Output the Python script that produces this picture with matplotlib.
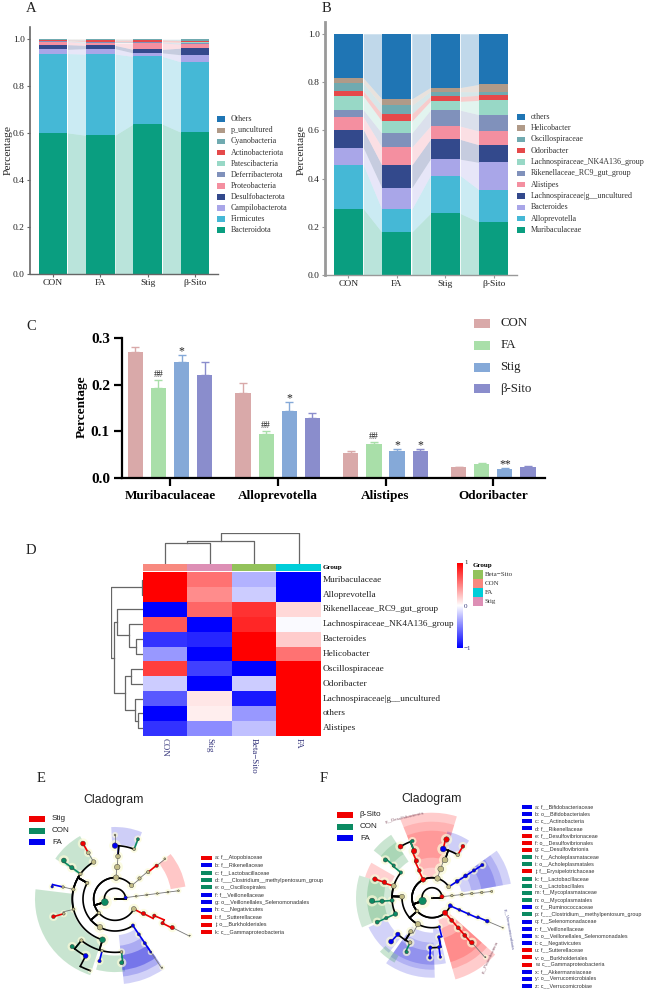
import numpy as np
import matplotlib
matplotlib.use('Agg')
import matplotlib.pyplot as plt
from matplotlib.patches import Rectangle, Wedge
from matplotlib.colors import LinearSegmentedColormap

plt.rcParams['font.family'] = ['Liberation Serif', 'DejaVu Serif']

W, H = 648, 992

# panel A / B, values are the height of each layer
groups = ['CON', 'FA', 'Stig', 'β-Sito']
stack_colors = ['#0a9e80', '#45b8d6', '#a9a6e8', '#33498c', '#f48fa0', '#8091bb',
                '#98d8c6', '#e5494a', '#70aab0', '#b09a88', '#1f75b4']

a_names = ['Bacteroidota', 'Firmicutes', 'Campilobacterota', 'Desulfobacterota',
           'Proteobacteria', 'Deferribacterota', 'Patescibacteria', 'Actinobacteriota',
           'Cyanobacteria', 'p_uncultured', 'Others']
a_bacteroidota = [0.600, 0.590, 0.637, 0.603]
a_firmicutes = [0.337, 0.345, 0.288, 0.299]
a_campilo = [0.018, 0.023, 0.015, 0.030]
a_desulfo = [0.020, 0.014, 0.015, 0.028]
a_proteo = [0.013, 0.010, 0.027, 0.017]
a_deferri = [0.002, 0.003, 0.003, 0.005]
a_patesci = [0.002, 0.003, 0.002, 0.003]
a_actino = [0.003, 0.006, 0.008, 0.007]
a_cyano = [0.003, 0.003, 0.003, 0.006]
a_uncult = [0.001, 0.002, 0.001, 0.001]
a_others = [0.001, 0.001, 0.001, 0.001]
a_layers = [a_bacteroidota, a_firmicutes, a_campilo, a_desulfo, a_proteo, a_deferri,
            a_patesci, a_actino, a_cyano, a_uncult, a_others]

b_names = ['Muribaculaceae', 'Alloprevotella', 'Bacteroides', 'Lachnospiraceae|g__uncultured',
           'Alistipes', 'Rikenellaceae_RC9_gut_group', 'Lachnospiraceae_NK4A136_group',
           'Odoribacter', 'Oscillospiraceae', 'Helicobacter', 'others']
b_muri = [0.275, 0.178, 0.255, 0.220]
b_allo = [0.182, 0.095, 0.157, 0.134]
b_bacteroides = [0.071, 0.089, 0.068, 0.113]
b_lachn = [0.075, 0.094, 0.082, 0.073]
b_alist = [0.052, 0.074, 0.055, 0.057]
b_riken = [0.030, 0.058, 0.066, 0.068]
b_nk4a = [0.057, 0.050, 0.037, 0.059]
b_odori = [0.021, 0.030, 0.020, 0.021]
b_oscil = [0.032, 0.035, 0.020, 0.015]
b_helico = [0.022, 0.027, 0.017, 0.030]
b_others = [0.183, 0.270, 0.223, 0.210]
b_layers = [b_muri, b_allo, b_bacteroides, b_lachn, b_alist, b_riken, b_nk4a,
            b_odori, b_oscil, b_helico, b_others]

# panel C
c_taxa = ['Muribaculaceae', 'Alloprevotella', 'Alistipes', 'Odoribacter']
c_colors = ['#d9a9a9', '#a9dfa9', '#85a9d8', '#8a8dcc']
c_con = [0.270, 0.182, 0.054, 0.022]
c_fa = [0.192, 0.095, 0.073, 0.029]
c_stig = [0.250, 0.144, 0.057, 0.019]
c_sito = [0.221, 0.128, 0.058, 0.022]
c_con_err = [0.011, 0.021, 0.003, 0.002]
c_fa_err = [0.018, 0.005, 0.004, 0.002]
c_stig_err = [0.015, 0.018, 0.004, 0.001]
c_sito_err = [0.027, 0.012, 0.004, 0.003]
c_marks = {(0, 1): '##', (0, 2): '*', (1, 1): '##', (1, 2): '*', (2, 1): '##',
           (2, 2): '*', (2, 3): '*', (3, 2): '**'}

# panel D
d_rows = ['Muribaculaceae', 'Alloprevotella', 'Rikenellaceae_RC9_gut_group',
          'Lachnospiraceae_NK4A136_group', 'Bacteroides', 'Helicobacter', 'Oscillospiraceae',
          'Odoribacter', 'Lachnospiraceae|g__uncultured', 'others', 'Alistipes']
d_cols = ['CON', 'Stig', 'Beta−Sito', 'FA']
d_col_colors = ['#f8897f', '#dd8fb5', '#93c25b', '#00ced9']
d_con = [1, 1, -1, 0.65, -0.8, -0.4, 0.75, -0.2, -0.65, -1, -0.8]
d_stig = [0.55, 0.45, 0.6, -1, -0.85, -1, -0.75, -1, 0.1, 0.07, -0.45]
d_beta = [-0.3, -0.2, 0.8, 0.85, 1, 1, -1, -0.2, -0.9, -0.4, -0.25]
d_fa = [-1, -1, 0.15, -0.02, 0.2, 0.55, 1, 1, 1, 1, 1]
# dendrograms: (height, left, right), leaves are row / column numbers
d_col_tree = (1.0, (0.74, (0.67, 0, 1), 2), 3)
d_row_tree = (1.0, (0.03, 0, 1),
              (0.91, (0.835, 2, (0.43, 3, (0.2, 4, 5))),
               (0.56, (0.36, 6, 7), (0.25, 8, (0.14, 9, 10)))))

# cladograms: (parent, angle, level, colour, size)
clade_colors = {'r': '#f00000', 'g': '#0b8a62', 'b': '#0000f0', 'k': '#c2bc86'}
e_nodes = [
    (-1, 0, 0, 'k', 1), (0, 197, 1, 'g', 60), (0, 7.4, 1, 'b', 14),
    (2, 7.4, 2, 'k', 4), (3, 7.4, 3, 'k', 4), (4, 7.4, 4, 'k', 4), (5, 7.4, 5, 'k', 4), (6, 7.4, 6, 'k', 4),
    (1, 39, 2, 'k', 22), (1, 87, 2, 'k', 38), (1, 221, 2, 'k', 14), (1, 332, 2, 'k', 30),
    (8, 40, 3, 'k', 14), (12, 39, 4, 'k', 14), (13, 38.6, 5, 'r', 14), (14, 39, 6, 'k', 4),
    (9, 86, 3, 'k', 38), (16, 86, 4, 'k', 26), (17, 90, 5, 'b', 38), (17, 69, 5, 'k', 10),
    (18, 90, 6, 'k', 4), (19, 69, 6, 'g', 12),
    (11, 333, 3, 'r', 22), (22, 337, 4, 'r', 14), (23, 333, 5, 'r', 14), (24, 333.5, 6, 'r', 22), (25, 334, 7.8, 'k', 1),
    (10, 304, 3, 'b', 14), (27, 304, 4, 'b', 12), (28, 304, 5, 'b', 12), (29, 304, 6, 'b', 5), (30, 304.5, 7.8, 'k', 2),
    (10, 242, 3, 'k', 38), (10, 150, 3, 'k', 14),
    (33, 253, 4, 'g', 42), (33, 194, 4, 'k', 10), (33, 167, 4, 'k', 14), (33, 144, 4, 'k', 14), (33, 120, 4, 'k', 26),
    (34, 231, 5, 'k', 14), (34, 256, 5, 'k', 10), (34, 277, 5, 'k', 10),
    (39, 228, 6, 'g', 22), (39, 242.7, 6, 'b', 30), (40, 256, 6, 'b', 14), (41, 276, 6, 'g', 22), (43, 251, 7.1, 'k', 2),
    (35, 196, 5, 'k', 10), (47, 196, 6, 'r', 18),
    (36, 167, 5, 'k', 8), (49, 169, 6, 'b', 8),
    (37, 144, 5, 'g', 24), (51, 143, 6, 'g', 30),
    (38, 120, 5, 'k', 18), (53, 120, 6, 'r', 30),
]
# (from angle, to angle, inner level, outer level, colour, alpha)
e_shades = [
    (10, 39, 5.3, 6.7, '#ff0000', 0.22), (68, 93, 5.1, 6.75, '#2222dd', 0.22),
    (119, 146, 3.9, 6.75, '#2e9a4a', 0.26), (173, 252, 4.1, 7.5, '#2e9a4a', 0.26),
    (255, 278, 5.3, 6.85, '#2e9a4a', 0.26),
    (276, 305, 3.4, 8.0, '#2222dd', 0.2), (276, 305, 4.4, 7.3, '#2222dd', 0.22),
    (276, 305, 5.3, 6.7, '#2222dd', 0.38),
]
e_legend = ['Stig', 'CON', 'FA']
e_legend_colors = ['#f00000', '#0b8a62', '#0000f0']
e_labels = ['a: f__Atopobiaceae', 'b: f__Rikenellaceae', 'c: f__Lactobacillaceae',
            'd: f___Clostridium__methylpentosum_group', 'e: o__Oscillospirales',
            'f: f__Veillonellaceae', 'g: o__Veillonellales_Selenomonadales', 'h: c__Negativicutes',
            'i: f__Sutterellaceae', 'j: o__Burkholderiales', 'k: c__Gammaproteobacteria']
e_label_colors = ['#f00000', '#0000f0', '#0b8a62', '#0b8a62', '#0b8a62', '#0000f0',
                  '#0000f0', '#0000f0', '#f00000', '#f00000', '#f00000']

f_nodes = [
    (-1, 0, 0, 'k', 1), (0, 199, 1, 'g', 70), (0, 6, 1, 'r', 22),
    (2, 6, 2, 'k', 8), (3, 6, 3, 'k', 8), (4, 6, 4, 'k', 8), (5, 6, 5, 'k', 8), (6, 6, 6, 'k', 6),
    (1, 116, 2, 'r', 30), (1, 74, 2, 'k', 36), (1, 33, 2, 'k', 20), (1, 222, 2, 'k', 14),
    (1, 311, 2, 'r', 36), (1, 336, 2, 'b', 22),
    (9, 73, 3, 'k', 42), (14, 71, 4, 'k', 42), (15, 77, 5, 'b', 42), (15, 59, 5, 'k', 16),
    (16, 76, 6, 'r', 36), (17, 59, 6, 'r', 18),
    (10, 33, 3, 'b', 20), (20, 33, 4, 'b', 20), (21, 33, 5, 'b', 14), (22, 33, 6, 'b', 14),
    (8, 115, 3, 'r', 18), (24, 113, 4, 'r', 24), (25, 111, 5, 'r', 36),
    (26, 121.6, 6, 'r', 30), (26, 109, 6, 'g', 14),
    (11, 178, 3, 'k', 30), (11, 242, 3, 'k', 36), (11, 284, 3, 'b', 8),
    (29, 141, 4, 'g', 14), (29, 163, 4, 'k', 30), (29, 184, 4, 'g', 20), (29, 204, 4, 'g', 26),
    (32, 140, 5, 'g', 14), (36, 141, 6, 'g', 22),
    (33, 162, 5, 'r', 26), (38, 162, 6, 'r', 26),
    (34, 184, 5, 'g', 24), (40, 183, 6, 'g', 36),
    (35, 204, 5, 'g', 14), (42, 204, 6, 'g', 20),
    (30, 238, 4, 'k', 22), (44, 227, 5, 'b', 24), (45, 227, 6, 'b', 30),
    (44, 244, 5, 'k', 18), (47, 245, 6, 'g', 14),
    (31, 280, 4, 'b', 12), (49, 268, 5, 'b', 16), (49, 278, 5, 'b', 12),
    (50, 268, 6, 'b', 12), (51, 278, 6, 'b', 8),
    (12, 311, 3, 'r', 20), (54, 311, 4, 'r', 20), (55, 311, 5, 'r', 20), (56, 311.6, 6, 'r', 26), (57, 312, 8, 'k', 1),
    (13, 336, 3, 'b', 10), (59, 336, 4, 'b', 10), (60, 337, 5, 'b', 10), (61, 337, 6, 'b', 18), (62, 337, 7.7, 'k', 1),
]
f_shades = [
    (73, 112, 2.0, 8.5, '#ff0000', 0.2), (73, 112, 3.0, 7.6, '#ff0000', 0.12), (73, 112, 4.0, 6.7, '#ff0000', 0.14),
    (57, 77, 4.9, 6.8, '#2222dd', 0.22),
    (10, 36, 3.0, 8.0, '#2222dd', 0.2), (10, 36, 4.0, 7.2, '#2222dd', 0.18), (10, 36, 5.0, 6.5, '#2222dd', 0.22),
    (286, 318, 2.3, 8.5, '#ff0000', 0.2), (286, 318, 3.2, 7.4, '#ff0000', 0.16), (286, 318, 4.2, 6.7, '#ff0000', 0.18),
    (235, 272, 3.5, 8.0, '#2222dd', 0.2), (235, 272, 4.5, 7.2, '#2222dd', 0.18), (235, 272, 5.3, 6.7, '#2222dd', 0.22),
    (272, 282, 3.0, 6.7, '#2222dd', 0.2),
    (205, 232, 5.0, 7.0, '#2222dd', 0.2), (226, 240, 6.7, 7.5, '#2e9a4a', 0.25),
    (150, 163, 4.3, 7.0, '#ff0000', 0.18),
    (123, 141, 4.3, 7.5, '#2e9a4a', 0.25), (123, 141, 5.2, 6.6, '#2e9a4a', 0.2),
    (163, 203, 4.0, 7.6, '#2e9a4a', 0.22), (163, 203, 4.8, 6.5, '#2e9a4a', 0.25),
]
f_legend = ['β-Sito', 'CON', 'FA']
f_legend_colors = ['#f00000', '#0b8a62', '#0000f0']
f_labels = ['a: f__Bifidobacteriaceae', 'b: o__Bifidobacteriales', 'c: c__Actinobacteria',
            'd: f__Rikenellaceae', 'e: f__Desulfovibrionaceae', 'f: o__Desulfovibrionales',
            'g: c__Desulfovibrionia', 'h: f__Acholeplasmataceae', 'i: o__Acholeplasmatales',
            'j: f__Erysipelotrichaceae', 'k: f__Lactobacillaceae', 'l: o__Lactobacillales',
            'm: f__Mycoplasmataceae', 'n: o__Mycoplasmatales', 'o: f__Ruminococcaceae',
            'p: f___Clostridium__methylpentosum_group', 'q: f__Selenomonadaceae', 'r: f__Veillonellaceae',
            's: o__Veillonellales_Selenomonadales', 't: c__Negativicutes', 'u: f__Sutterellaceae',
            'v: o__Burkholderiales', 'w: c__Gammaproteobacteria', 'x: f__Akkermansiaceae',
            'y: o__Verrucomicrobiales', 'z: c__Verrucomicrobiae']
f_label_colors = ['#0000f0', '#0000f0', '#0000f0', '#0000f0', '#f00000', '#f00000', '#f00000',
                  '#0b8a62', '#0b8a62', '#f00000', '#0b8a62', '#0b8a62', '#0b8a62', '#0b8a62',
                  '#0000f0', '#0b8a62', '#0000f0', '#0000f0', '#0000f0', '#0000f0', '#f00000',
                  '#f00000', '#f00000', '#0000f0', '#0000f0', '#0000f0']


fig = plt.figure(figsize=(W / 100, H / 100), dpi=100)


def px_ax(x0, y0, x1, y1, **kw):
    # axes from pixel box, y counted from the top of the image
    return fig.add_axes([x0 / W, 1 - y1 / H, (x1 - x0) / W, (y1 - y0) / H], **kw)


def px_text(x, y, s, **kw):
    kw.setdefault('va', 'center')
    fig.text(x / W, 1 - y / H, s, **kw)


def px_rect(x0, y0, x1, y1, color):
    fig.add_artist(Rectangle((x0 / W, 1 - y1 / H), (x1 - x0) / W, (y1 - y0) / H,
                             transform=fig.transFigure, fc=color, ec='none'))


def stacked(box, layers, names, spine_color, spine_lw, leg_x, leg_y, leg_step, ylab_x):
    bar_w = 0.6
    ax = px_ax(*box)
    x = np.arange(4)
    bottom = np.zeros(4)
    for vals, col in zip(layers, stack_colors):
        vals = np.array(vals)
        ax.bar(x, vals, bar_w, bottom=bottom, color=col, lw=0)
        for i in range(3):
            xs = [i + bar_w / 2 + 0.01, i + 1 - bar_w / 2 - 0.01]
            ax.fill_between(xs, bottom[i:i + 2], (bottom + vals)[i:i + 2], color=col, alpha=0.28, lw=0)
        bottom = bottom + vals
    ax.set_xticks(x, groups, fontsize=6.8)
    ax.set_yticks(np.arange(0, 1.01, 0.2), ['%.1f' % v for v in np.arange(0, 1.01, 0.2)], fontsize=6.8)
    ax.tick_params(length=2.2, width=0.8, color=spine_color, pad=1.5, labelcolor='#222222')
    for s in ['top', 'right']:
        ax.spines[s].set_visible(False)
    ax.spines['left'].set_color(spine_color)
    ax.spines['bottom'].set_color(spine_color)
    ax.spines['left'].set_linewidth(spine_lw)
    ax.spines['bottom'].set_linewidth(1.0)
    ax.set_xlim(-0.48, 3.48)
    ax.set_ylim(0, 1.05)
    px_text(ylab_x, 150, 'Percentage', fontsize=8.2, rotation=90, ha='center', color='#222222')
    for i, (n, col) in enumerate(zip(names[::-1], stack_colors[::-1])):
        y = leg_y + i * leg_step
        px_rect(leg_x, y - 2.8, leg_x + 8.5, y + 2.8, col)
        px_text(leg_x + 14, y, n, fontsize=5.8, color='#333333')
    return ax


# A, 0 at y=274 and 1 at y=38.3
stacked((30, 27, 218, 274), a_layers, a_names, '#666666', 1.2, 216.7, 119.3, 11.07, 8)
# B, 0 at y=275 and 1 at y=33.3
stacked((325, 21.7, 517, 275), b_layers, b_names, '#999999', 2.0, 516.7, 116.7, 11.33, 301)

px_text(26, 8, 'A', fontsize=10.5, color='#222222')
px_text(321.5, 8, 'B', fontsize=10.5, color='#222222')

# C
ax = px_ax(121.7, 338.3, 545, 477.7)
c_series = [c_con, c_fa, c_stig, c_sito]
c_errs = [c_con_err, c_fa_err, c_stig_err, c_sito_err]
for j, (vals, errs, col) in enumerate(zip(c_series, c_errs, c_colors)):
    xs = np.arange(4) + (j - 1.5) * 0.2145
    ax.bar(xs, vals, 0.142, color=col, lw=0)
    ax.errorbar(xs, vals, yerr=[np.zeros(4), errs], fmt='none', ecolor=col, elinewidth=1, capsize=3, capthick=1)
    for g in range(4):
        if (g, j) in c_marks:
            m = c_marks[(g, j)]
            off = 0.003 if m[0] == '#' else 0.008
            ax.text(xs[g], vals[g] + errs[g] + off, m, ha='center', va='bottom' if m[0] == '#' else 'center',
                    fontsize=7 if m[0] == '#' else 8.5, color='#222222')
ax.set_xlim(-0.448, 3.48)
ax.set_ylim(0, 0.3)
ax.set_xticks(range(4), c_taxa, fontsize=9.5, fontweight='bold')
ax.set_yticks([0, 0.1, 0.2, 0.3], ['0.0', '0.1', '0.2', '0.3'], fontsize=11, fontweight='bold')
ax.tick_params(length=5.5, width=1.6, pad=3)
for s in ['top', 'right']:
    ax.spines[s].set_visible(False)
ax.spines['left'].set_linewidth(1.6)
ax.spines['bottom'].set_linewidth(1.6)
ax.patch.set_alpha(0)
px_text(82, 407, 'Percentage', fontsize=9.5, fontweight='bold', rotation=90, ha='center')
for i, (n, col) in enumerate(zip(groups, c_colors)):
    y = 323.5 + i * 21.8
    px_rect(474, y - 4.5, 490, y + 4.5, col)
    px_text(500.5, y, n, fontsize=9.3, color='#222222')
px_text(26, 326, 'C', fontsize=10.5, color='#222222')

# D heat map
cmap = LinearSegmentedColormap.from_list('bwr2', ['#0000ff', '#ffffff', '#ff0000'])
ax = px_ax(142.7, 572.3, 321, 735.7)
ax.pcolormesh(np.array([d_con, d_stig, d_beta, d_fa]).T, cmap=cmap, vmin=-1, vmax=1)
ax.set_ylim(11, 0)
ax.set_xticks([])
ax.set_yticks([])
for s in ax.spines.values():
    s.set_visible(False)
for i, n in enumerate(d_rows):
    px_text(323, 572.3 + (i + 0.5) * 14.85, n, fontsize=6.7, color='#222222')
for j, (n, col) in enumerate(zip(d_cols, d_col_colors)):
    cx = 142.7 + (j + 0.5) * 44.58
    px_rect(cx - 22.3, 564, cx + 22.3, 571, col)
    px_text(cx, 737.5, n, fontsize=6.4, rotation=270, ha='center', va='top', color='#33337a')
px_text(323, 567.5, 'Group', fontsize=5, fontweight='bold')
px_text(26, 551, 'D', fontsize=10.5, color='#222222')


def draw_tree(ax, node, vertical):
    # returns leaf position and height of a dendrogram node
    if not isinstance(node, tuple):
        return node + 0.5, 0.0
    h, left, right = node
    p0, h0 = draw_tree(ax, left, vertical)
    p1, h1 = draw_tree(ax, right, vertical)
    xs, ys = [p0, p0, p1, p1], [h0, h, h, h1]
    if vertical:
        ax.plot(xs, ys, color='#666666', lw=0.9)
    else:
        ax.plot(ys, xs, color='#666666', lw=0.9)
    return (p0 + p1) / 2, h


ax = px_ax(142.7, 533, 321, 563.5)
draw_tree(ax, d_col_tree, True)
ax.set_xlim(0, 4)
ax.set_ylim(0, 1.0)
ax.axis('off')
ax = px_ax(111.5, 572.3, 142.7, 735.7)
draw_tree(ax, d_row_tree, False)
ax.set_xlim(1.0, 0)
ax.set_ylim(11, 0)
ax.axis('off')

ax = px_ax(456.7, 563, 462, 648)
ax.imshow(np.linspace(1, -1, 200)[:, None], cmap=cmap, aspect='auto', extent=[0, 1, -1, 1], vmin=-1, vmax=1)
ax.axis('off')
for v, y in [('1', 563), ('0', 606), ('−1', 648)]:
    px_text(464, y, v, fontsize=5, color='#33337a' if v != '1' else '#222222')
px_text(473, 565.5, 'Group', fontsize=5, fontweight='bold')
for i, (n, col) in enumerate(zip(['Beta−Sito', 'CON', 'FA', 'Stig'], ['#93c25b', '#f8897f', '#00ced9', '#dd8fb5'])):
    y = 570 + i * 9.1
    px_rect(473, y, 482.7, y + 9.1, col)
    px_text(484.5, y + 4.5, n, fontsize=5, color='#333333')


def cladogram(cx, cy, unit, nodes, shades):
    half = 120
    ax = px_ax(cx - half, cy - half, cx + half, cy + half)
    ax.set_xlim(-half / unit, half / unit)
    ax.set_ylim(-half / unit, half / unit)
    ax.axis('off')
    for a0, a1, r0, r1, col, alpha in shades:
        ax.add_patch(Wedge((0, 0), r1, a0, a1, width=r1 - r0, fc=col, ec='none', alpha=alpha))
    for parent, ang, lev, col, size in nodes:
        if parent < 0:
            continue
        p_ang, p_lev = nodes[parent][1], nodes[parent][2]
        # out along the parent's angle, then round to the child at its own level
        rs = np.r_[p_lev, lev]
        t0 = np.radians(p_ang)
        arc = np.radians(np.linspace(p_ang, ang, 40))
        span = abs(ang - p_ang)
        ec = 'black' if span > 5 else ('#777777' if col == 'k' else clade_colors[col])
        thin = col == 'k' and span <= 5
        ax.plot(rs * np.cos(t0), rs * np.sin(t0), color=ec, lw=0.6 if thin else 1.2, zorder=3)
        ax.plot(lev * np.cos(arc), lev * np.sin(arc), color=ec, lw=0.6 if thin else 1.2, zorder=3, solid_capstyle='round')
    xs = np.array([n[2] * np.cos(np.radians(n[1])) for n in nodes])
    ys = np.array([n[2] * np.sin(np.radians(n[1])) for n in nodes])
    sizes = np.array([n[4] for n in nodes])
    cols = [clade_colors[n[3]] for n in nodes]
    ax.scatter(xs, ys, s=sizes * 1.5 + 12, c='#fbfbd8', lw=0, alpha=0.7, zorder=2)
    ax.scatter(xs, ys, s=sizes * 0.42, c=cols, edgecolors='#333333', linewidths=0.3, zorder=4)
    ax.patch.set_alpha(0)
    return ax


sans = ['Liberation Sans', 'DejaVu Sans']

ax = cladogram(115, 899, 10.67, e_nodes, e_shades)
px_text(114, 800, 'Cladogram', fontsize=8.8, ha='center', family=sans, color='#222222')
for i, (n, col) in enumerate(zip(e_legend, e_legend_colors)):
    y = 819 + i * 11.5
    px_rect(29, y - 3, 45, y + 3, col)
    px_text(52, y, n, fontsize=5.9, family=sans, color='#222222')
for i, (n, col) in enumerate(zip(e_labels, e_label_colors)):
    y = 857.7 + i * 7.44
    px_rect(201, y - 2, 212, y + 2, col)
    px_text(215, y, n, fontsize=4.0, family=sans, color='#333333')
px_text(37, 779, 'E', fontsize=10.5, color='#222222')

ax = cladogram(432, 897.7, 10, f_nodes, f_shades)
ax.text(-4.7, 8.0, 'p__Desulfobacterota', fontsize=3.2, rotation=13, family=sans, color='#8a5a6a', va='center')
ax.text(7.6, -3.1, 'p__Verrucomicrobiota', fontsize=3.2, rotation=-80, family=sans, color='#5a5a9a', ha='center', va='center')
ax.text(5.8, -6.0, 'p__Proteobacteria', fontsize=3.2, rotation=65, family=sans, color='#8a5a6a', ha='center', va='center')
px_text(432, 799, 'Cladogram', fontsize=8.8, ha='center', family=sans, color='#222222')
for i, (n, col) in enumerate(zip(f_legend, f_legend_colors)):
    y = 815 + i * 11.5
    px_rect(337, y - 3, 353, y + 3, col)
    px_text(360, y, n, fontsize=5.9, family=sans, color='#222222')
for i, (n, col) in enumerate(zip(f_labels, f_label_colors)):
    y = 807 + i * 7.16
    px_rect(522, y - 2, 532, y + 2, col)
    px_text(535, y, n, fontsize=3.9, family=sans, color='#333333')
px_text(320, 779, 'F', fontsize=10.5, color='#222222')

fig.savefig('out.png', dpi=100)
